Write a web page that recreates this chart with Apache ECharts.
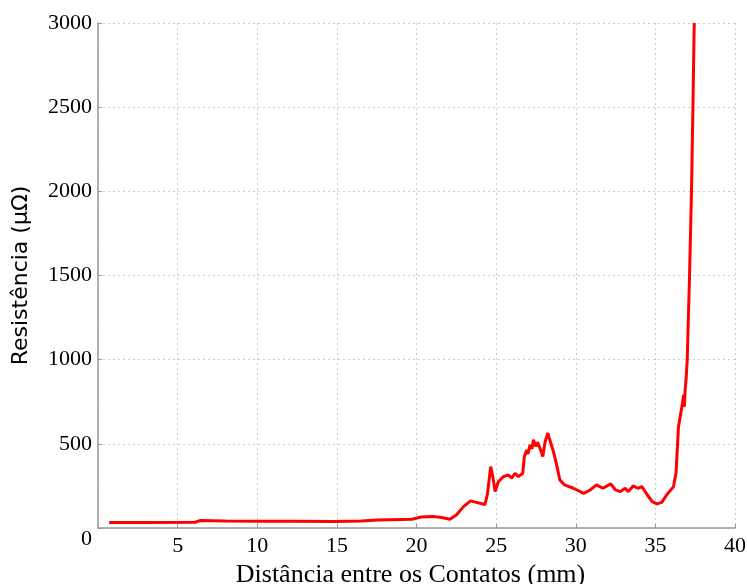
<!DOCTYPE html>
<html>
<head>
<meta charset="utf-8">
<script src="https://cdn.jsdelivr.net/npm/echarts@6/dist/echarts.min.js"></script>
<style>
  html, body { margin: 0; padding: 0; background: #fff; }
  #chart { width: 747px; height: 584px; }
</style>
</head>
<body>
<div id="chart"></div>
<script>
// distância (mm) e resistência (µΩ)
const distance = [0.7, 3, 6.1, 6.4, 8, 9.9, 12, 14.9, 16.5, 17.6,
  19.7, 20.3, 21.0, 21.5, 22.1, 22.5, 22.95, 23.4, 23.8, 24.3,
  24.45, 24.66, 24.8, 24.94, 25.14, 25.46, 25.77, 25.98, 26.19, 26.4,
  26.67, 26.77, 26.92, 27.0, 27.13, 27.25, 27.34, 27.5, 27.6, 27.72,
  27.85, 27.93, 28.08, 28.25, 28.35, 28.44, 28.6, 28.8, 29.0, 29.3,
  29.85, 30.5, 30.9, 31.3, 31.7, 32.2, 32.5, 32.8, 33.1, 33.3,
  33.6, 33.9, 34.15, 34.5, 34.8, 35.1, 35.4, 35.7, 36.14, 36.3,
  36.45, 36.56, 36.7, 36.77, 36.82, 36.87, 36.94, 37.0, 37.15, 37.27,
  37.36, 37.44];
const resistance = [32, 33, 34, 44, 42, 40, 40, 38, 42, 48,
  52, 65, 68, 64, 52, 77, 127, 161, 151, 140,
  200, 365, 300, 216, 276, 305, 315, 296, 325, 305,
  325, 424, 464, 440, 494, 470, 524, 484, 510, 504,
  450, 424, 514, 564, 530, 524, 454, 375, 286, 256,
  236, 206, 226, 256, 236, 262, 226, 216, 236, 216,
  250, 236, 246, 196, 157, 143, 152, 196, 246, 330,
  600, 662, 740, 790, 720, 821, 900, 1000, 1516, 2012,
  2508, 3000];
const xTicks = [0, 5, 10, 15, 20, 25, 30, 35, 40];
const yTicks = [0, 500, 1000, 1500, 2000, 2500, 3000];

const serif = '"Liberation Serif", "Times New Roman", serif';
const points = distance.map((d, i) => [d, resistance[i]]);

const chart = echarts.init(document.getElementById('chart'));
chart.setOption({
  animation: false,
  backgroundColor: '#fff',
  grid: { left: 98, right: 12, top: 23, bottom: 56, containLabel: false, outerBoundsMode: 'none' },
  xAxis: {
    type: 'value',
    min: xTicks[0], max: xTicks[xTicks.length - 1], interval: 5,
    name: 'Distância entre os Contatos (mm)',
    nameLocation: 'middle', nameGap: 33,
    nameTextStyle: { fontFamily: serif, fontSize: 26, color: '#000', padding: [0, 12, 0, 0] },
    axisLine: { show: true, lineStyle: { color: '#999', width: 1.5 } },
    axisTick: { show: true, inside: true, length: 4, lineStyle: { color: '#999' } },
    axisLabel: {
      fontFamily: serif, fontSize: 22, color: '#000', margin: 7,
      formatter: v => (v === 0 ? '' : v)
    },
    splitLine: { show: true, lineStyle: { color: '#ccc', type: [2, 3], width: 1 } }
  },
  yAxis: {
    type: 'value',
    min: yTicks[0], max: yTicks[yTicks.length - 1], interval: 500,
    name: 'Resistência (μΩ)',
    nameLocation: 'middle', nameGap: 66,
    nameTextStyle: { fontFamily: '"DejaVu Sans", sans-serif', fontSize: 22, color: '#000' },
    axisLine: { show: true, lineStyle: { color: '#999', width: 1.5 } },
    axisTick: { show: true, inside: true, length: 4, lineStyle: { color: '#999' } },
    axisLabel: {
      fontFamily: serif, fontSize: 22, color: '#000', margin: 6,
      formatter: v => (v === 0 ? '{z|0}' : v),
      rich: { z: { fontFamily: serif, fontSize: 22, color: '#000', padding: [22, 0, 0, 0] } }
    },
    splitLine: { show: true, lineStyle: { color: '#ccc', type: [2, 3], width: 1 } }
  },
  series: [{
    type: 'line',
    data: points,
    showSymbol: false,
    lineStyle: { color: '#ff0000', width: 3 },
    clip: true
  }]
});
</script>
</body>
</html>
